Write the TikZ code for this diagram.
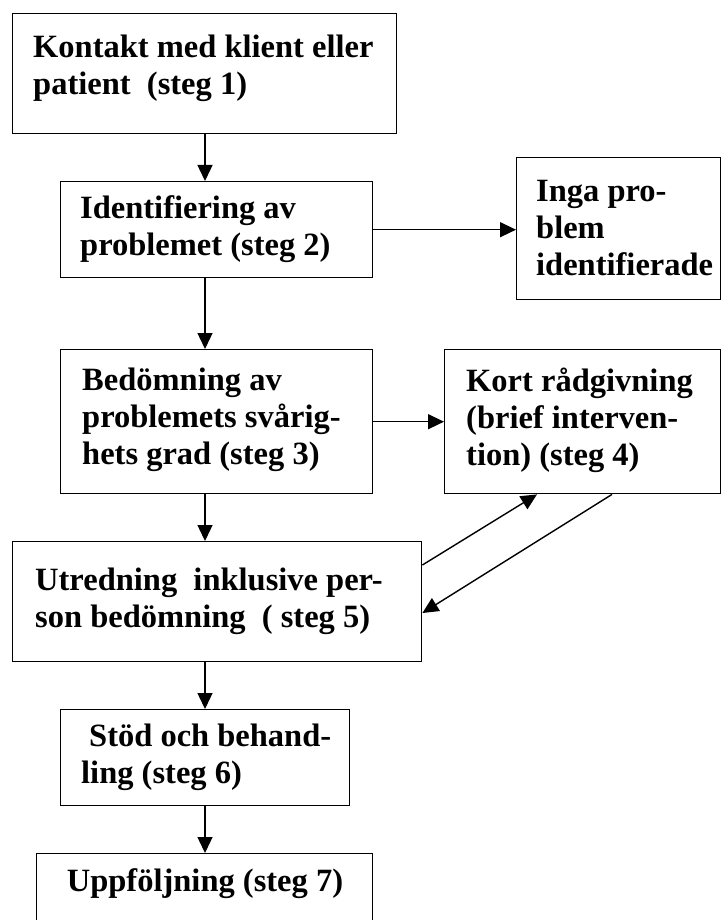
\documentclass[tikz,border=0pt]{standalone}
\usepackage{fontspec}
\setmainfont{Liberation Serif}
\usetikzlibrary{arrows.meta,calc}
\begin{document}
\begin{tikzpicture}[x=1pt,y=-1pt,
  box/.style={draw, line width=1.4pt, anchor=north west, inner sep=0pt},
  lbl/.style={anchor=west, align=left, inner sep=0pt, font=\fontsize{32.5}{37}\selectfont\bfseries},
  arr/.style={line width=1.4pt, -{Triangle[length=16pt,width=15pt]}}]
\useasboundingbox (0,0) rectangle (722,920);
\fill[white] (0,0) rectangle (722,920);
% boxes
\node[box, minimum width=384pt, minimum height=120pt] (b1) at (12,13) {};
\node[box, minimum width=312pt, minimum height=96pt]  (b2) at (60,181) {};
\node[box, minimum width=204pt, minimum height=142pt] (bi) at (516,157) {};
\node[box, minimum width=276pt, minimum height=144pt] (b4) at (444,349) {};
\node[box, minimum width=312pt, minimum height=144pt] (b3) at (60,349) {};
\node[box, minimum width=409pt, minimum height=120pt] (b5) at (12,541) {};
\node[box, minimum width=289pt, minimum height=96pt]  (b6) at (60,709) {};
\node[box, minimum width=336pt, minimum height=80pt]  (b7) at (36,853) {};
% texts
\node[lbl] (t1) at (33,68) {Kontakt med klient eller\\patient\ \ (steg 1)};
\node[lbl] (t2) at (80,229) {Identifiering av\\problemet (steg 2)};
\node[lbl] (ti) at (536,228) {Inga pro-\\blem\\identifierade};
\node[lbl] (t3) at (82,420) {Bedömning av\\problemets svårig-\\hets grad (steg 3)};
\node[lbl] (t4) at (466,420) {Kort rådgivning\\(brief interven-\\tion) (steg 4)};
\node[lbl] (t5) at (35,601) {Utredning\ \ inklusive per-\\son bedömning\ \ ( steg 5)};
\node[lbl] (t6) at (81,757) {\hspace*{8pt}Stöd och behand-\\ling (steg 6)};
\node[lbl, anchor=center] (t7) at (205,884) {Uppföljning (steg 7)};
% connectors
\coordinate (ax) at (205,0);
\coordinate (p54s) at ($(b5.north east)+(0,24)$);
\coordinate (p54e) at ($(b4.south west)+(93,0)$);
\coordinate (p45s) at ($(b4.south west)+(168,0)$);
\coordinate (p45e) at ($(b5.north east)+(0,72)$);
\draw[arr] (b1.south -| ax) -- (b2.north -| ax);
\draw[arr] (b2.east) -- (b2.east -| bi.west);
\draw[arr] (b2.south -| ax) -- (b3.north -| ax);
\draw[arr] (b3.east) -- (b3.east -| b4.west);
\draw[arr] (b3.south -| ax) -- (b5.north -| ax);
\draw[arr] (p54s) -- (p54e);
\draw[arr] (p45s) -- (p45e);
\draw[arr] (b5.south -| ax) -- (b6.north -| ax);
\draw[arr] (b6.south -| ax) -- (b7.north -| ax);
\end{tikzpicture}
\end{document}
